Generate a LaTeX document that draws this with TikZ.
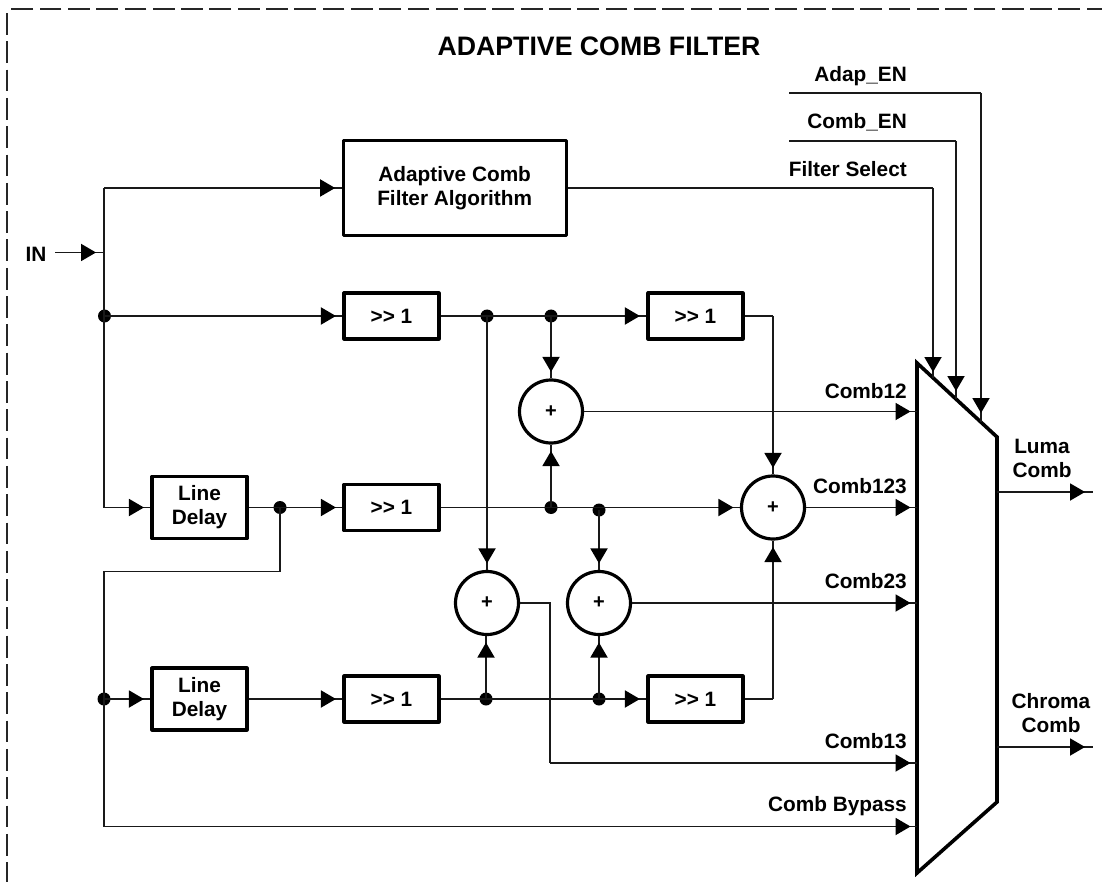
\documentclass[tikz,border=0pt]{standalone}
\usepackage{fontspec}
\setmainfont{Liberation Sans}
\usetikzlibrary{arrows.meta,decorations.markings,calc}
\tikzset{
  wire/.style={line width=1.3pt,draw=black!90},
  tipped/.style={wire,postaction={decorate,decoration={markings,mark=at position -#1pt with {\arrow[line width=0pt]{Triangle[length=15pt,width=17.5pt,color=black,fill=black]}}}}},
  tipped/.default=6.5,
  block/.style={draw=black,line width=3.2pt,line join=round,fill=white,align=center,inner sep=0pt,font=\fontsize{20.8}{24}\selectfont\bfseries},
  adder/.style={circle,draw=black,line width=3.2pt,fill=white,minimum size=63pt,inner sep=0pt,font=\fontsize{20}{20}\selectfont\bfseries},
  dot/.style={circle,fill=black,minimum size=13pt,inner sep=0pt},
  lab/.style={inner sep=0pt,font=\fontsize{20.8}{24}\selectfont\bfseries,align=center},
  labr/.style={lab,anchor=base east},
  frame/.style={line width=1.2pt,draw=black!85},
}
\begin{document}
\begin{tikzpicture}[x=1pt,y=-1pt]
\useasboundingbox (0,0) rectangle (1102,882);
\fill[white] (0,0) rectangle (1102,882);
\draw[frame,dash pattern=on 21.8pt off 6.5pt,dash phase=6.5pt] (1102,9) -- (7,9);
\draw[frame,dash pattern=on 21.8pt off 6.5pt,dash phase=24.2pt] (7,9) -- (7,882);
\node[lab,anchor=base,font=\fontsize{26.7}{28}\selectfont\bfseries] (title) at (599,56) {ADAPTIVE COMB FILTER};

% blocks
\node[block,minimum width=223pt,minimum height=95pt] (acf) at (454.7,188.2) {Adaptive Comb\\Filter Algorithm};
\node[block,minimum width=95pt,minimum height=46pt] (s1) at (391.5,316) {>{}> 1};
\node[block,minimum width=95pt,minimum height=46pt] (s2) at (695.5,316) {>{}> 1};
\node[block,minimum width=95pt,minimum height=46pt] (s3) at (391.5,507.5) {>{}> 1};
\node[block,minimum width=95pt,minimum height=46pt] (s4) at (391.5,699) {>{}> 1};
\node[block,minimum width=95pt,minimum height=46pt] (s5) at (695.5,699) {>{}> 1};
\node[block,minimum width=95pt,minimum height=62pt] (ld1) at (199.5,507.5) {Line\\Delay};
\node[block,minimum width=95pt,minimum height=62pt] (ld2) at (199.5,699) {Line\\Delay};
\node[adder] (a12) at (551,411.5) {+};
\node[adder] (a123) at (773,507.5) {+};
\node[adder] (a13) at (487,603) {+};
\node[adder] (a23) at (599,603) {+};

% multiplexer
\coordinate (mA) at (917,363);
\coordinate (mB) at (997,437);
\coordinate (mC) at (997,802);
\coordinate (mD) at (917,873);
\draw[line width=3.6pt,line join=miter,fill=white] (mA) -- (mB) -- (mC) -- (mD) -- cycle;

% junctions
\node[dot] (jA) at (104.5,316) {};
\node[dot] (jB) at (487,316) {};
\node[dot] (jC) at (551,316) {};
\node[dot] (jD) at (280,507.5) {};
\node[dot] (jE) at (551,507.5) {};
\node[dot] (jF) at (599,510) {};
\node[dot] (jG) at (104,699) {};
\node[dot] (jH) at (486,699) {};
\node[dot] (jI) at (599,699) {};
\coordinate (jIN) at (104,252.5);
\coordinate (top) at (104,188);
\coordinate (inS) at (55,252.5);

% connectors
\draw[tipped] (top) -- (acf.west |- top);
\draw[wire] (top) -- (104,507.5);
\draw[tipped] (104,507.5) -- (ld1.west);
\draw[tipped=8] (inS) -- (jIN);
\draw[tipped] (jA.center) -- (s1.west);
\draw[wire] (s1.east) -- (jB.center);
\draw[wire] (jB.center) -- (jC.center);
\draw[tipped] (jC.center) -- (s2.west);
\draw[tipped] (jC.center) -- (jC |- a12.north);
\draw[tipped] (jB.center) -- (jB |- a13.north);
\draw[wire] (s2.east) -- (773,316);
\draw[tipped] (773,316) -- (a123.north);
\draw[wire] (ld1.east) -- (jD.center);
\draw[tipped] (jD.center) -- (s3.west);
\draw[wire] (s3.east) -- (jE.center);
\draw[tipped] (jE.center) -- (a123.west);
\draw[tipped] (jE.center) -- (jE |- a12.south);
\draw[tipped] (jF.center) -- (jF |- a23.north);
\draw[wire] (jD.center) -- (280,571.5) -- (104,571.5) -- (jG.center);
\draw[wire] (jG.center) -- (104,826.5);
\draw[tipped] (jG.center) -- (ld2.west);
\draw[tipped] (ld2.east) -- (s4.west);
\draw[wire] (s4.east) -- (jH.center);
\draw[wire] (jH.center) -- (jI.center);
\draw[tipped] (jI.center) -- (s5.west);
\draw[tipped] (jH.center) -- (jH |- a13.south);
\draw[tipped] (jI.center) -- (jI |- a23.south);
\draw[wire] (s5.east) -- (773,699);
\draw[tipped] (773,699) -- (a123.south);
\draw[tipped=6.5] (a12.east) -- (917,411.5);
\draw[tipped=6.5] (a123.east) -- (917,507.5);
\draw[tipped=6.5] (a23.east) -- (917,603);
\draw[wire] (a13.east) -- (550,603) -- (550,763);
\draw[tipped=6.5] (550,763) -- (917,763);
\draw[tipped=6.5] (104,826.5) -- (917,826.5);
\draw[wire] (acf.east |- 0,188) -- (933,188);
\draw[tipped=6] (933,188) -- (933,378);
\draw[wire] (789,141) -- (956,141);
\draw[tipped=8] (956,141) -- (956,399);
\draw[wire] (789,93) -- (981,93);
\draw[tipped=9] (981,93) -- (981,422);
\draw[tipped=8] (mB |- 0,492) -- (1093,492);
\draw[tipped=8] (mB |- 0,747) -- (1093,747);

% labels
\node[lab,anchor=base] (lIN) at (36,262) {IN};
\node[labr] (lAd) at (907,82) {Adap\_EN};
\node[labr] (lCo) at (907,129) {Comb\_EN};
\node[labr] (lFi) at (907,177) {Filter Select};
\node[labr] (l12) at (907,398) {Comb12};
\node[labr] (l123) at (907,493) {Comb123};
\node[labr] (l23) at (907,588) {Comb23};
\node[labr] (l13) at (907,748) {Comb13};
\node[labr] (lBy) at (907,811) {Comb Bypass};
\node[lab] (lLu) at (1042,458) {Luma\\Comb};
\node[lab] (lCh) at (1051,713) {Chroma\\Comb};
\end{tikzpicture}
\end{document}
